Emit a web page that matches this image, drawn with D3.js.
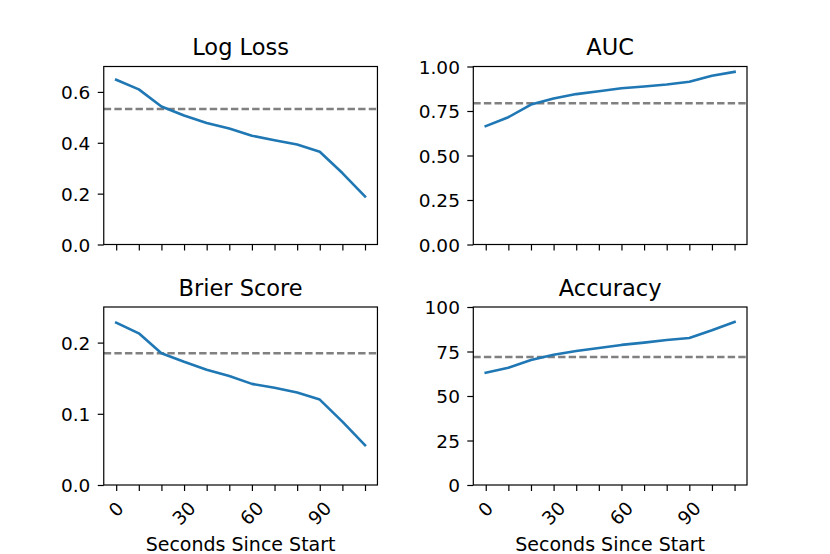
<!DOCTYPE html>
<html>
<head>
<meta charset="utf-8">
<script src="https://cdn.jsdelivr.net/npm/d3@7"></script>
<style>
  html, body { margin: 0; padding: 0; background: #fff; }
  svg { display: block; }
  text { font-family: "DejaVu Sans", sans-serif; fill: #000; }
</style>
</head>
<body>
<svg id="chart" width="830" height="554"></svg>
<script>
// ---- data ----
const seconds = [0, 10, 20, 30, 40, 50, 60, 70, 80, 90, 100, 110];
const xTickLabels = [0, 30, 60, 90];

const logLoss  = [0.648, 0.610, 0.543, 0.507, 0.478, 0.456, 0.428, 0.410, 0.393, 0.365, 0.281, 0.189];
const auc      = [0.665, 0.715, 0.786, 0.820, 0.845, 0.861, 0.878, 0.888, 0.899, 0.914, 0.948, 0.970];
const brier    = [0.228, 0.213, 0.185, 0.173, 0.162, 0.153, 0.142, 0.1365, 0.130, 0.120, 0.089, 0.056];
const accuracy = [63.1, 65.9, 70.2, 73.2, 75.3, 77.0, 78.7, 80.0, 81.5, 82.6, 86.9, 91.6];

const baselines = [0.533, 0.794, 0.185, 71.9];
const titles = ["Log Loss", "AUC", "Brier Score", "Accuracy"];
const yMax = [0.7, 1.0, 0.25, 100];
const yTicks = [[0, 0.2, 0.4, 0.6], [0, 0.25, 0.5, 0.75, 1.0], [0, 0.1, 0.2], [0, 25, 50, 75, 100]];
const yFormats = [".1f", ".2f", ".1f", "d"];
const xLabel = "Seconds Since Start";

// ---- layout ----
const svg = d3.select("#chart");
const axW = 273.7, axH = 178;
const lefts = [103.75, 473.3];
const tops = [66.5, 307];
const panels = [
  {vals: logLoss,  col: 0, row: 0},
  {vals: auc,      col: 1, row: 0},
  {vals: brier,    col: 0, row: 1},
  {vals: accuracy, col: 1, row: 1}
];
const tickFs = 18.5, titleFs = 22.5, labelFs = 19;
const tickLen = 6, tickPad = 6.4;

panels.forEach((p, i) => {
  const x0 = lefts[p.col], y0 = tops[p.row];
  const g = svg.append("g").attr("transform", `translate(${x0},${y0})`);
  const x = d3.scaleLinear().domain([-5.5, 115.5]).range([0, axW]);
  const y = d3.scaleLinear().domain([0, yMax[i]]).range([axH, 0]);

  // baseline dashed
  g.append("line")
    .attr("x1", 0).attr("x2", axW)
    .attr("y1", y(baselines[i])).attr("y2", y(baselines[i]))
    .attr("stroke", "#808080").attr("stroke-width", 2.5)
    .attr("stroke-dasharray", "7.4,3.2");

  // line
  const line = d3.line().x((d, j) => x(seconds[j])).y(d => y(d));
  g.append("path").datum(p.vals)
    .attr("d", line).attr("fill", "none")
    .attr("stroke", "#1f77b4").attr("stroke-width", 2.6)
    .attr("stroke-linejoin", "round").attr("stroke-linecap", "square");

  // frame
  g.append("rect").attr("x", 0).attr("y", 0).attr("width", axW).attr("height", axH)
    .attr("fill", "none").attr("stroke", "#000").attr("stroke-width", 1.2);

  // y axis
  const yAxis = d3.axisLeft(y).tickValues(yTicks[i]).tickFormat(d3.format(yFormats[i]))
    .tickSize(tickLen).tickPadding(tickPad);
  const ya = g.append("g").call(yAxis);
  ya.select(".domain").remove();
  ya.selectAll(".tick line").attr("stroke", "#000").attr("stroke-width", 1.2);
  ya.selectAll(".tick text")
    .attr("font-size", tickFs).attr("font-family", "DejaVu Sans")
    .attr("fill", "#000").attr("dy", null).attr("x", -(tickLen + tickPad + 1))
    .attr("y", 0.36 * tickFs);

  // x axis
  const xAxis = d3.axisBottom(x).tickValues(seconds).tickSize(tickLen).tickFormat("");
  const xa = g.append("g").attr("transform", `translate(0,${axH})`).call(xAxis);
  xa.select(".domain").remove();
  xa.selectAll(".tick line").attr("stroke", "#000").attr("stroke-width", 1.2);
  xa.selectAll(".tick text").remove();

  if (p.row === 1) {
    const lg = g.append("g").attr("transform", `translate(0,${axH})`);
    const h = 1.164 * tickFs;
    xTickLabels.forEach(v => {
      const t = lg.append("text")
        .attr("font-size", tickFs)
        .attr("text-anchor", "middle")
        .text(v);
      const w = t.node().getComputedTextLength();
      const cy = tickLen + tickPad + 0.3536 * (w + h);
      t.attr("transform", `translate(${x(v)},${cy}) rotate(-45)`)
        .attr("y", 0.346 * tickFs);
    });
    g.append("text")
      .attr("x", axW / 2).attr("y", 551 - y0)
      .attr("text-anchor", "middle")
      .attr("font-size", labelFs)
      .text(xLabel);
  }

  // title
  g.append("text")
    .attr("x", axW / 2).attr("y", -11.3)
    .attr("text-anchor", "middle")
    .attr("font-size", titleFs)
    .text(titles[i]);
});
</script>
</body>
</html>
